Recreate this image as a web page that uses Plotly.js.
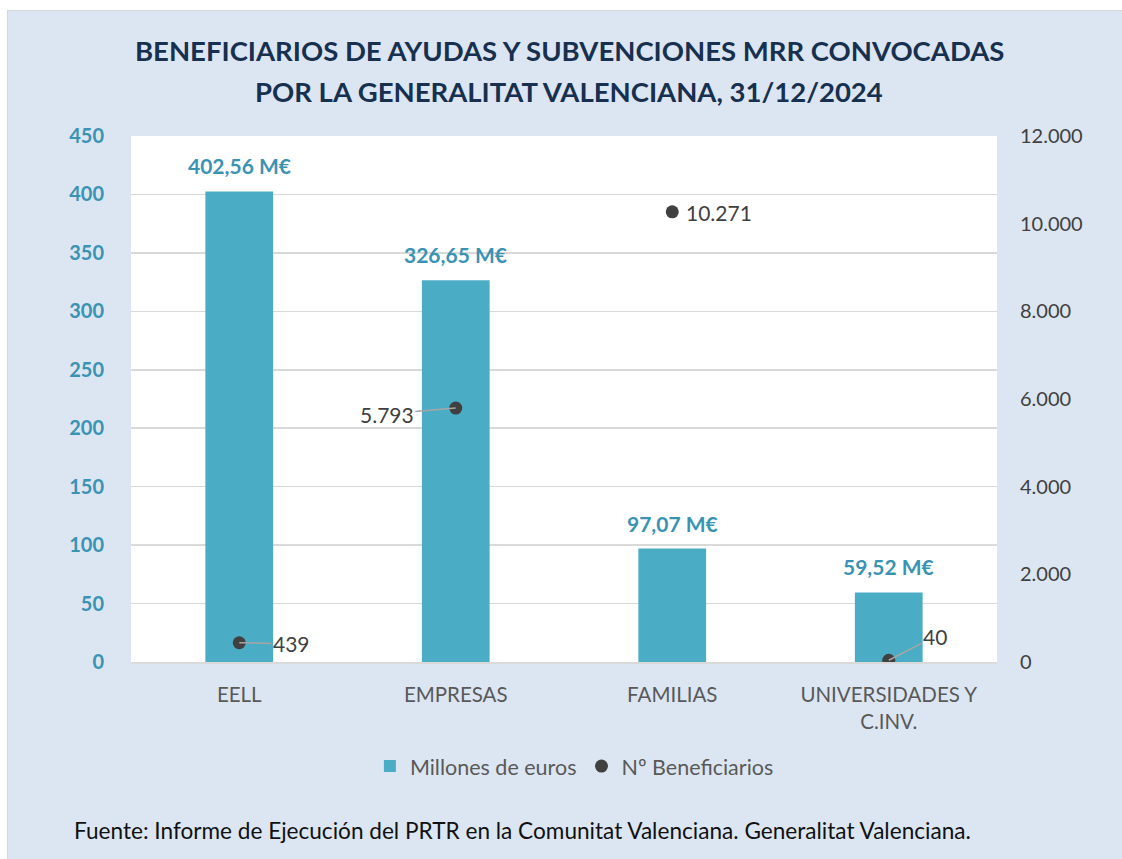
<!DOCTYPE html>
<html>
<head>
<meta charset="utf-8">
<script src="https://cdn.plot.ly/plotly-3.0.1.min.js"></script>
<style>
html,body{margin:0;padding:0;background:#ffffff;width:1122px;height:859px;overflow:hidden;}
#wrap{position:absolute;left:7px;top:10px;width:1115px;height:849px;border-left:1px solid #d6d6d6;border-top:1px solid #d6d6d6;}
#chart{width:1114px;height:848px;}
</style>
</head>
<body>
<div id="wrap"><div id="chart"></div></div>
<script>
const categories = ["EELL", "EMPRESAS", "FAMILIAS", "UNIVERSIDADES Y<br>C.INV."];
const millonesEuros = [402.56, 326.65, 97.07, 59.52];
const beneficiarios = [439, 5793, 10271, 40];
const seriesNames = ["Millones de euros", "Nº Beneficiarios"];
const titleLines = ["BENEFICIARIOS DE AYUDAS Y SUBVENCIONES MRR CONVOCADAS", "POR LA GENERALITAT VALENCIANA, 31/12/2024"];
const sourceText = "Fuente: Informe de Ejecución del PRTR en la Comunitat Valenciana. Generalitat Valenciana.";

function fmtThousands(n){ return String(Math.round(n)).replace(/\B(?=(\d{3})+(?!\d))/g, "."); }
function fmtDec(n){ return n.toFixed(2).replace(".", ",") + " M€"; }

const teal = "#4bacc6";
const tealText = "#3a93b3";
const font = "Lato, 'Open Sans', sans-serif";

const PW = 866, PH = 526; // plot area size in px

const bars = {
  type: "bar", name: seriesNames[0], x: categories, y: millonesEuros,
  marker: {color: teal}, yaxis: "y", hoverinfo: "none"
};
const pts = {
  type: "scatter", mode: "markers", name: seriesNames[1], x: categories, y: beneficiarios,
  marker: {color: "#404040", size: 13}, yaxis: "y2", hoverinfo: "none"
};

const annotations = [];
categories.forEach((c, i) => {
  annotations.push({
    x: c, y: millonesEuros[i], xref: "x", yref: "y", text: fmtDec(millonesEuros[i]),
    showarrow: false, yanchor: "bottom", yshift: 11,
    font: {family: font, size: 21, color: tealText, weight: "bold"}
  });
});
// beneficiary labels (offsets in pixels)
const offs = [
  {ax: 52, ay: 1, arrow: true},
  {ax: -69, ay: 6, arrow: true},
  {ax: 47, ay: 1, arrow: false},
  {ax: 46, ay: -24, arrow: true}
];
categories.forEach((c, i) => {
  const o = offs[i];
  if (o.arrow) {
    annotations.push({
      x: c, y: beneficiarios[i], xref: "x", yref: "y2", text: fmtThousands(beneficiarios[i]),
      showarrow: true, arrowhead: 0, arrowwidth: 1.5, arrowcolor: "#a6a6a6", standoff: 0,
      ax: o.ax, ay: o.ay, font: {family: font, size: 21, color: "#404040"}
    });
  } else {
    annotations.push({
      x: c, y: beneficiarios[i], xref: "x", yref: "y2", text: fmtThousands(beneficiarios[i]),
      showarrow: false, xshift: o.ax, yshift: -o.ay, font: {family: font, size: 21, color: "#404040"}
    });
  }
});
// title lines
const titleY = [1 + 86/PH, 1 + 45/PH];
titleLines.forEach((t, i) => {
  annotations.push({
    x: (561-123)/PW, y: titleY[i], xref: "paper", yref: "paper", xanchor: "center", yanchor: "middle",
    showarrow: false, text: t, font: {family: font, size: 27.5, color: "#17304f", weight: "bold"}
  });
});
annotations.push({
  x: -59/PW, y: -168/PH, xref: "paper", yref: "paper", xanchor: "left", yanchor: "middle",
  showarrow: false, text: sourceText, font: {family: font, size: 22.6, color: "#111111"}
});

const layout = {
  width: 1114, height: 848,
  paper_bgcolor: "#dce6f2", plot_bgcolor: "#ffffff",
  separators: ",.",
  margin: {l: 123, r: 125, t: 125, b: 197},
  bargap: 0.687,
  showlegend: true,
  legend: {
    orientation: "h", x: 0.512, xanchor: "center", y: -0.198, yanchor: "middle",
    font: {family: font, size: 21.5, color: "#595959"}, bgcolor: "rgba(0,0,0,0)",
    itemwidth: 30
  },
  xaxis: {
    type: "category", showgrid: false, showline: true, linecolor: "#d9d9d9", linewidth: 1.5,
    ticks: "", tickfont: {family: font, size: 20.5, color: "#595959"}, ticklabelstandoff: 14,
    zeroline: false
  },
  yaxis: {
    range: [0, 450], dtick: 50, tick0: 0, showgrid: true, gridcolor: "#d9d9d9", gridwidth: 1.5,
    zeroline: false, showline: false, ticks: "",
    tickfont: {family: font, size: 20, color: tealText, weight: "bold"}, ticklabelstandoff: 26
  },
  yaxis2: {
    range: [0, 12000], dtick: 2000, tick0: 0, overlaying: "y", side: "right", showgrid: false,
    zeroline: false, showline: false, ticks: "", tickformat: ",d",
    tickfont: {family: font, size: 20, color: "#404040"}, ticklabelstandoff: 22
  },
  annotations: annotations
};

Plotly.newPlot("chart", [bars, pts], layout, {displayModeBar: false, staticPlot: true});
</script>
</body>
</html>
